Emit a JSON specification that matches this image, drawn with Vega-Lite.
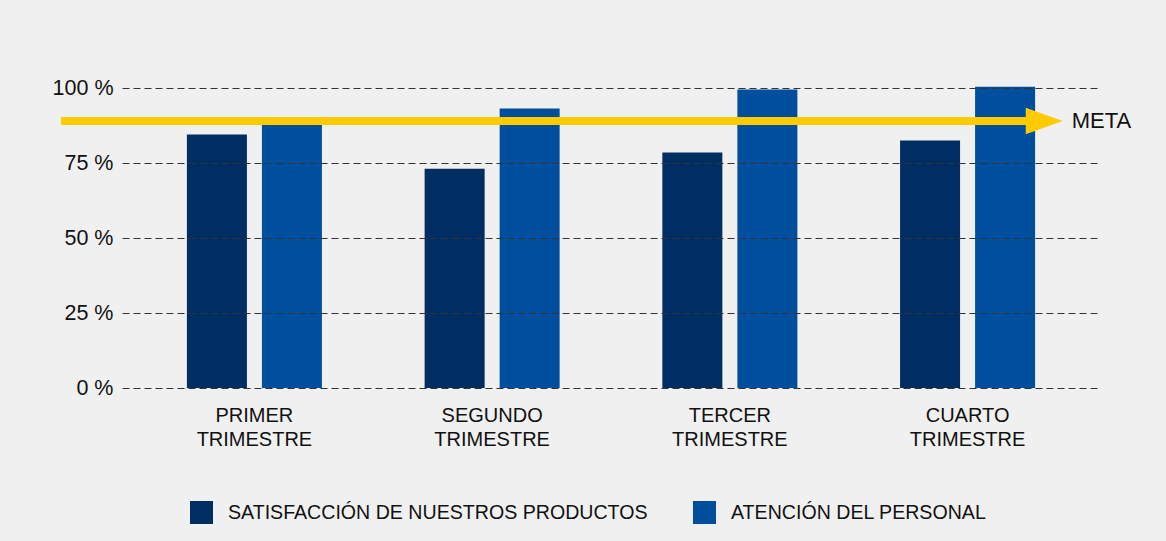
{
  "$schema": "https://vega.github.io/schema/vega-lite/v6.json",
  "width": 978,
  "height": 300,
  "autosize": {"type": "none"},
  "padding": {"left": 122, "top": 88, "right": 66, "bottom": 153},
  "background": "#f0f0f0",
  "config": {
    "font": "Liberation Sans, Arial",
    "view": {"stroke": null},
    "axis": {"labelFont": "Liberation Sans, Arial"},
    "legend": {"labelFont": "Liberation Sans, Arial"}
  },
  "encoding": {
    "y": {
      "field": "value",
      "type": "quantitative",
      "scale": {"domain": [0, 100], "nice": false, "zero": true},
      "axis": {
        "title": null,
        "values": [0, 25, 50, 75, 100],
        "labelExpr": "datum.value + ' %'",
        "labelFontSize": 21.5,
        "labelColor": "#111111",
        "labelPadding": 9,
        "ticks": false,
        "domain": false,
        "grid": true,
        "gridColor": "#333333",
        "gridDash": [7, 4],
        "gridWidth": 1,
        "zindex": 1
      }
    }
  },
  "layer": [
    {
      "data": {
        "values": [
          {"quarter": "PRIMER TRIMESTRE", "series": "SATISFACCIÓN DE NUESTROS PRODUCTOS", "value": 84.5},
          {"quarter": "PRIMER TRIMESTRE", "series": "ATENCIÓN DEL PERSONAL", "value": 88.5},
          {"quarter": "SEGUNDO TRIMESTRE", "series": "SATISFACCIÓN DE NUESTROS PRODUCTOS", "value": 73.1},
          {"quarter": "SEGUNDO TRIMESTRE", "series": "ATENCIÓN DEL PERSONAL", "value": 93.2},
          {"quarter": "TERCER TRIMESTRE", "series": "SATISFACCIÓN DE NUESTROS PRODUCTOS", "value": 78.5},
          {"quarter": "TERCER TRIMESTRE", "series": "ATENCIÓN DEL PERSONAL", "value": 99.5},
          {"quarter": "CUARTO TRIMESTRE", "series": "SATISFACCIÓN DE NUESTROS PRODUCTOS", "value": 82.5},
          {"quarter": "CUARTO TRIMESTRE", "series": "ATENCIÓN DEL PERSONAL", "value": 100.4}
        ]
      },
      "mark": {"type": "bar"},
      "encoding": {
        "x": {
          "field": "quarter",
          "type": "nominal",
          "sort": ["PRIMER TRIMESTRE", "SEGUNDO TRIMESTRE", "TERCER TRIMESTRE", "CUARTO TRIMESTRE"],
          "scale": {"paddingInner": 0.432, "paddingOuter": 0.273},
          "axis": {
            "title": null,
            "labelAngle": 0,
            "labelExpr": "split(datum.label, ' ')",
            "labelFontSize": 20,
            "labelLineHeight": 24,
            "labelColor": "#111111",
            "labelPadding": 17,
            "labelBaseline": "top",
            "ticks": false,
            "domain": false
          }
        },
        "xOffset": {
          "field": "series",
          "type": "nominal",
          "sort": ["SATISFACCIÓN DE NUESTROS PRODUCTOS", "ATENCIÓN DEL PERSONAL"],
          "scale": {"paddingInner": 0.2, "paddingOuter": 0}
        },
        "color": {
          "field": "series",
          "type": "nominal",
          "scale": {
            "domain": ["SATISFACCIÓN DE NUESTROS PRODUCTOS", "ATENCIÓN DEL PERSONAL"],
            "range": ["#002e62", "#004f9e"]
          },
          "legend": {
            "title": null,
            "orient": "none",
            "legendX": 68,
            "legendY": 413,
            "direction": "horizontal",
            "symbolType": "square",
            "symbolSize": 529,
            "symbolStrokeWidth": 0,
            "symbolOpacity": 1,
            "labelFontSize": 19.6,
            "labelColor": "#111111",
            "labelOffset": 15,
            "labelLimit": 1000,
            "columnPadding": 45
          }
        }
      }
    },
    {
      "data": {"values": [{"value": 89, "start": -6.24, "end": 93.0, "head": 94.3, "labelx": 97.1, "label": "META"}]},
      "layer": [
        {
          "mark": {"type": "rule", "color": "#fecb00", "strokeWidth": 8, "strokeCap": "butt"},
          "encoding": {
            "x": {"field": "start", "type": "quantitative", "scale": {"domain": [0, 100], "nice": false, "zero": false}, "axis": null},
            "x2": {"field": "end"}
          }
        },
        {
          "mark": {"type": "point", "shape": "M-1,-0.72L1,0L-1,0.72Z", "size": 1369, "filled": true, "color": "#fecb00", "opacity": 1, "strokeWidth": 0},
          "encoding": {
            "x": {"field": "head", "type": "quantitative", "scale": {"domain": [0, 100], "nice": false, "zero": false}, "axis": null}
          }
        },
        {
          "mark": {"type": "text", "align": "left", "baseline": "middle", "fontSize": 22, "color": "#111111"},
          "encoding": {
            "x": {"field": "labelx", "type": "quantitative", "scale": {"domain": [0, 100], "nice": false, "zero": false}, "axis": null},
            "text": {"field": "label"}
          }
        }
      ]
    }
  ],
  "resolve": {"scale": {"x": "independent"}, "axis": {"x": "independent"}}
}
